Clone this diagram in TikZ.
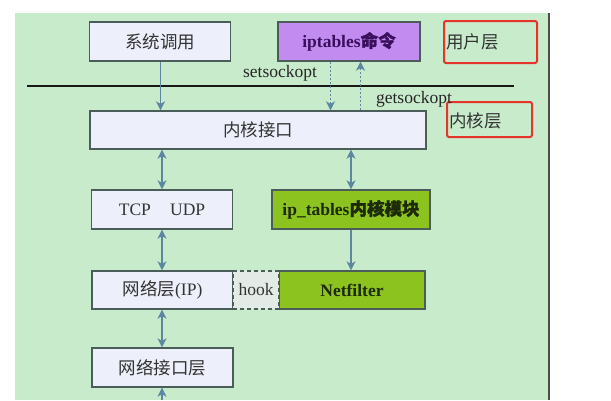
\documentclass[tikz,border=0pt]{standalone}
\usepackage{fontspec}
\setmainfont{Liberation Serif}
\newfontfamily\cjk{Noto Sans CJK SC}
\newfontfamily\cjkb[FakeBold=1.5]{Noto Sans CJK SC}
\usetikzlibrary{arrows.meta}
\definecolor{bggreen}{HTML}{C8EBCB}
\definecolor{boxfill}{HTML}{EDF0FA}
\definecolor{boxline}{HTML}{4B5D58}
\definecolor{purplefill}{HTML}{C28BEF}
\definecolor{purpletext}{HTML}{3A0F5E}
\definecolor{limefill}{HTML}{8DC31F}
\definecolor{limetext}{HTML}{1C2A05}
\definecolor{arrowcol}{HTML}{5B88A0}
\definecolor{redline}{HTML}{E5352B}
\definecolor{hookfill}{HTML}{E4EBE7}
\definecolor{textgray}{HTML}{333333}
\tikzset{
  plainbox/.style={draw=boxline, line width=1.3pt, fill=boxfill, text=textgray,
    inner sep=0pt, font=\fontsize{17.5}{20}\selectfont},
  purplebox/.style={plainbox, fill=purplefill, text=purpletext, font=\fontsize{17.5}{20}\selectfont\bfseries},
  limebox/.style={plainbox, fill=limefill, text=limetext, font=\fontsize{17.5}{20}\selectfont\bfseries},
  hookbox/.style={plainbox, fill=hookfill, dashed, dash pattern=on 4pt off 3pt},
  redbox/.style={draw=redline, line width=2pt, rounded corners=2pt, inner sep=0pt},
  layertext/.style={text=textgray, font=\fontsize{17.5}{20}\selectfont\cjk, inner sep=0pt, anchor=west},
  lbl/.style={text=black!85, font=\fontsize{17.5}{20}\selectfont, inner sep=0pt},
  conn/.style={draw=arrowcol, line width=1.4pt},
  tipd/.style={-{Stealth[length=9pt,width=9pt,inset=2.5pt]}},
  tipb/.style={{Stealth[length=9pt,width=9pt,inset=2.5pt]}-{Stealth[length=9pt,width=9pt,inset=2.5pt]}},
  dotconn/.style={conn, line width=1.3pt, dash pattern=on 2.5pt off 1.5pt}
}
\begin{document}
\begin{tikzpicture}[x=1pt,y=-1pt]
\useasboundingbox (0,0) rectangle (611,400);
% background panel
\fill[bggreen] (15,13) rectangle (549,400);
\draw[black!70, line width=1.5pt] (549,13) -- (549,400);

% separator line
\coordinate (sepL) at (27,86);
\coordinate (sepR) at (514,86);
\draw[black!90, line width=2pt] (sepL) -- (sepR);

% user layer boxes
\node[plainbox, minimum width=141pt, minimum height=39pt] (sys) at (160,41.5) {\cjk 系统调用};
\node[purplebox, minimum width=142pt, minimum height=39pt] (ipt) at (349,41.5) {iptables{\cjkb 命令}};

% layer labels
\node[redbox, minimum width=93pt, minimum height=42pt] (ul) at (490.5,42) {};
\node[layertext] (ult) at ([xshift=3pt]ul.west) {用户层};
\node[redbox, minimum width=85pt, minimum height=35pt] (kl) at (489.5,119.5) {};
\node[layertext] (klt) at ([xshift=3pt,yshift=-1.5pt]kl.west) {内核层};

% kernel interface
\node[plainbox, minimum width=336pt, minimum height=38pt] (kif) at (258,130) {\cjk 内核接口};

% middle row
\node[plainbox, minimum width=141pt, minimum height=39pt] (tcp) at (162,209.5) {TCP\hspace{1.1em}UDP};
\node[limebox, minimum width=158pt, minimum height=39pt] (ipk) at (351,209.5) {ip\_tables{\cjkb 内核模块}};

% network layer row
\node[plainbox, minimum width=141pt, minimum height=38pt] (ip) at (162.5,290) {{\cjk 网络层}(IP)};
\node[limebox, minimum width=146pt, minimum height=38pt] (nf) at (352,290) {Netfilter};
\node[hookbox, minimum width=46pt, minimum height=38pt] (hook) at (256,290) {hook};

% network interface
\node[plainbox, minimum width=141pt, minimum height=39pt] (nif) at (162.5,367.5) {\cjk 网络接口层};

% labels
\node[lbl] (set) at (280,73) {setsockopt};
\node[lbl] (get) at (414,99) {getsockopt};

% connectors
\coordinate (xs) at (160.5,0);
\coordinate (xl) at (162,0);
\coordinate (xr) at (351,0);
\coordinate (xd1) at (330.5,0);
\coordinate (xd2) at (360.5,0);
\coordinate (bot) at (162,400);

\draw[conn, tipd] (sys.south -| xs) -- (kif.north -| xs);
\draw[dotconn, tipd] (ipt.south -| xd1) -- (kif.north -| xd1);
\draw[dotconn, tipd] (kif.north -| xd2) -- (ipt.south -| xd2);
\draw[conn, tipb] (kif.south -| xl) -- (tcp.north -| xl);
\draw[conn, tipb] (kif.south -| xr) -- (ipk.north -| xr);
\draw[conn, tipb] (tcp.south -| xl) -- (ip.north -| xl);
\draw[conn, tipd] (ipk.south -| xr) -- (nf.north -| xr);
\draw[conn, tipb] (ip.south -| xl) -- (nif.north -| xl);
\draw[conn, tipd] (bot) -- (nif.south -| xl);
\end{tikzpicture}
\end{document}
